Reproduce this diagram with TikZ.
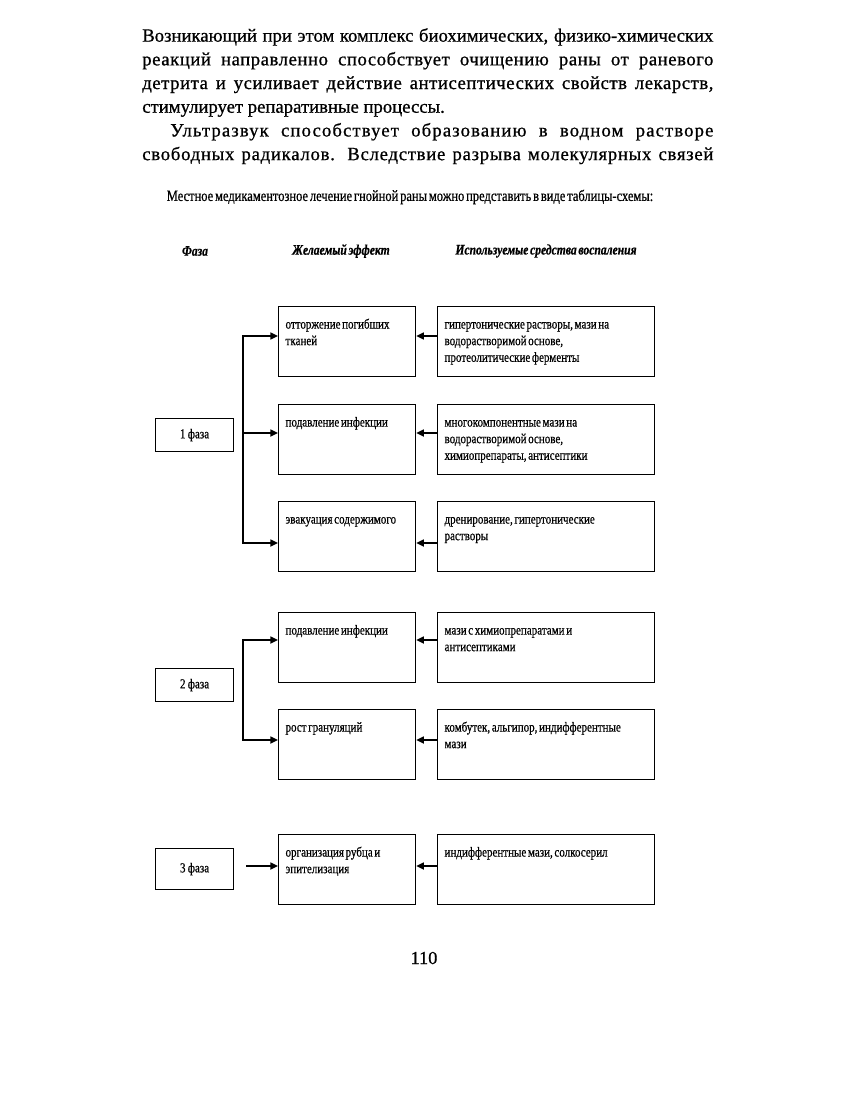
\documentclass[tikz,border=0pt]{standalone}
\usepackage{fontspec}
\setmainfont{Liberation Serif}
\newfontfamily\bodyfont[FakeBold=0.8]{Liberation Serif}
\newfontfamily\cellfont[FakeStretch=0.8, FakeBold=0.6, WordSpace=0.6]{Liberation Serif}
\newcommand{\spaced}[1]{\addfontfeature{LetterSpace=#1}}
\usetikzlibrary{arrows.meta}

\tikzset{
  effbox/.style={draw, line width=0.8pt, anchor=north west, align=justify,
    font=\cellfont\fontsize{9.8}{11.8}\selectfont, inner xsep=0.175cm, inner ysep=0.1cm,
    text width=3.075cm, text height=0.45cm, text depth=1.1cm},
  medbox/.style={effbox, text width=5.075cm},
  phasebox/.style={draw, line width=0.8pt, anchor=north west, inner sep=0pt,
    minimum width=1.95cm, minimum height=0.825cm, font=\cellfont\fontsize{9.8}{11}\selectfont},
  colhead/.style={font=\cellfont\fontsize{10.3}{12}\selectfont\bfseries\itshape},
  arr/.style={line width=1.1pt, -{Triangle[length=5.5pt,width=5pt]}},
}

\begin{document}
\begin{tikzpicture}[x=0.025cm, y=-0.025cm]
  \useasboundingbox (0,0) rectangle (843,1115);

  \node (para) [anchor=north west, inner sep=0pt, text width=14.275cm, align=justify,
    font=\bodyfont\fontsize{13.3}{16.85}\selectfont] at (142,28) {%
    \makebox[14.275cm][s]{Возникающий при этом комплекс биохимических, физико-химических}\\
    \makebox[14.275cm][s]{\spaced{3}реакций направленно способствует очищению раны от раневого}\\
    \makebox[14.275cm][s]{\spaced{3}детрита и усиливает действие антисептических свойств лекарств,}\\
    стимулирует репаративные процессы.\\
    \makebox[14.275cm][s]{\hspace*{0.7cm}\spaced{6}Ультразвук способствует образованию в водном растворе}\\
    \makebox[14.275cm][s]{\spaced{4}свободных радикалов. Вследствие разрыва молекулярных связей}};

  \node (caption) [font=\cellfont\fontsize{11.1}{12}\selectfont] at (410,197)
    {Местное медикаментозное лечение гнойной раны можно представить в виде таблицы-схемы:};

  \node (hphase) [colhead] at (195,251) {Фаза};
  \node (heffect) [colhead] at (341,251) {Желаемый эффект};
  \node (hmeans) [colhead] at (546,251) {Используемые средства воспаления};

  \node (phase1) [phasebox] at (155,418) {1\,фаза};
  \node (phase2) [phasebox] at (155,668) {2\,фаза};
  \node (phase3) [phasebox, minimum height=1.025cm] at (155,848) {3\,фаза};

  \node (eff1) [effbox] at (278,306) {отторжение погибших\\ тканей};
  \node (eff2) [effbox] at (278,404) {подавление инфекции};
  \node (eff3) [effbox] at (278,501) {эвакуация содержимого};
  \node (eff4) [effbox] at (278,612) {подавление инфекции};
  \node (eff5) [effbox] at (278,709) {рост грануляций};
  \node (eff6) [effbox] at (278,834) {организация рубца и\\ эпителизация};

  \node (med1) [medbox] at (437,306) {гипертонические растворы, мази на\\ водорастворимой основе,\\ протеолитические ферменты};
  \node (med2) [medbox] at (437,404) {многокомпонентные мази на\\ водорастворимой основе,\\ химиопрепараты, антисептики};
  \node (med3) [medbox] at (437,501) {дренирование, гипертонические\\ растворы};
  \node (med4) [medbox] at (437,612) {мази с химиопрепаратами и\\ антисептиками};
  \node (med5) [medbox] at (437,709) {комбутек, альгипор, индифферентные\\ мази};
  \node (med6) [medbox] at (437,834) {индифферентные мази, солкосерил};

  \coordinate (b1top) at (243,336);
  \coordinate (b1mid) at (243,433);
  \coordinate (b1bot) at (243,543);
  \coordinate (b2top) at (243,640);
  \coordinate (b2bot) at (243,740);
  \coordinate (b3) at (246,866);

  \draw[arr] (b1mid) -- (b1top) -- (eff1.west |- b1top);
  \draw[arr] (b1mid) -- (eff2.west |- b1mid);
  \draw[arr] (b1mid) -- (b1bot) -- (eff3.west |- b1bot);
  \draw[arr] (b2bot) -- (b2top) -- (eff4.west |- b2top);
  \draw[arr] (b2top) -- (b2bot) -- (eff5.west |- b2bot);
  \draw[arr] (b3) -- (eff6.west |- b3);

  \draw[arr] (med1.west |- b1top) -- (eff1.east |- b1top);
  \draw[arr] (med2.west |- b1mid) -- (eff2.east |- b1mid);
  \draw[arr] (med3.west |- b1bot) -- (eff3.east |- b1bot);
  \draw[arr] (med4.west |- b2top) -- (eff4.east |- b2top);
  \draw[arr] (med5.west |- b2bot) -- (eff5.east |- b2bot);
  \draw[arr] (med6.west |- b3) -- (eff6.east |- b3);

  \node (pagenum) [font=\bodyfont\fontsize{13}{15}\selectfont] at (424,958) {110};
\end{tikzpicture}
\end{document}
